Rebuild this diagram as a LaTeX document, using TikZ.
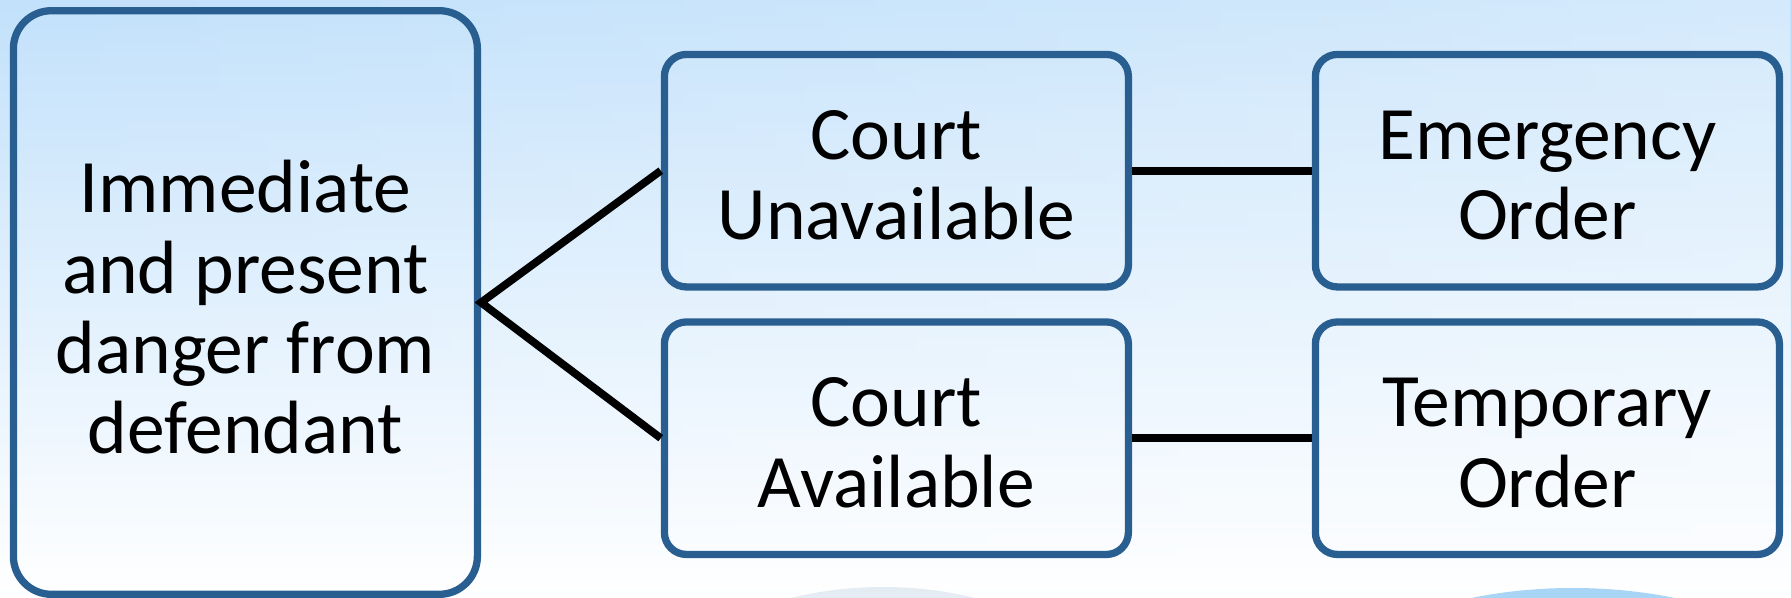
\documentclass[tikz,border=0pt]{standalone}
\usepackage{fontspec}
\setmainfont{Carlito}
\usetikzlibrary{fadings}
\definecolor{boxblue}{RGB}{41,94,145}
\definecolor{bgtop}{RGB}{194,225,251}
\definecolor{bgmid}{RGB}{226,241,253}
\definecolor{domeblue}{RGB}{168,213,246}
\definecolor{domegrey}{RGB}{212,224,236}
\newcommand\lift[1]{\rule{0pt}{#1}}
\begin{document}
\begin{tikzpicture}[x=1pt,y=-1pt,
  box/.style={draw=boxblue, line width=7.3pt, rounded corners=22pt,
    minimum width=464pt, minimum height=232.5pt, align=center,
    inner sep=0pt, text=black, font=\fontsize{75.5}{80.4}\selectfont},
  tallbox/.style={box, minimum height=583.6pt, rounded corners=38pt},
  connector/.style={draw=black, line width=7.8pt, line join=miter}]
\useasboundingbox (0,0) rectangle (1791,597);
\clip (0,0) rectangle (1791,597);
% background
\shade[top color=bgtop, middle color=bgmid, bottom color=white] (0,0) rectangle (1791,597);
\fill[white, path fading=west, opacity=0.3] (0,0) rectangle (1791,597);
% bottom decorations
\fill[domegrey, opacity=0.6] (883,707) ellipse [x radius=220pt, y radius=120pt];
\fill[domeblue] (1573,704) ellipse [x radius=250pt, y radius=116pt];
% boxes
\node[tallbox] (L) at (245.4,302.5) {\lift{62pt}Immediate\\and present\\danger from\\defendant};
\node[box] (CU) at (896.4,170.7) {\lift{58pt}Court\\Unavailable};
\node[box] (CA) at (896.4,438.2) {\lift{58pt}Court\\Available};
\node[box] (EO) at (1547.4,170.7) {\lift{58pt}Emergency\\Order};
\node[box] (TO) at (1547.4,438.2) {\lift{58pt}Temporary\\Order};
% connectors
\draw[connector] (CU.west) -- (L.east) -- (CA.west);
\draw[connector] (CU.east) -- (EO.west);
\draw[connector] (CA.east) -- (TO.west);
\end{tikzpicture}
\end{document}
